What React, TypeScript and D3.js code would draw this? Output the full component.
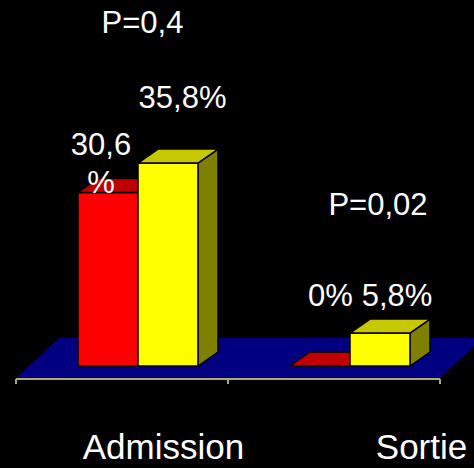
import React from "react";
import * as d3 from "d3";

// Categories, series and values
const categories = ["Admission", "Sortie"];
const seriesNames = ["A", "B"];
const valuesA = [30.6, 0];
const valuesB = [35.8, 5.8];
const pValues = ["P=0,4", "P=0,02"];

const W = 474;
const H = 468;

// Floor geometry (front edge and receding depth)
const floorFrontY = 378;
const floorDepthX = 43;
const floorDepthY = -40;
// Bars sit a little behind the floor's front edge
const barPlaneDx = 16;
const barBaseY = 366;
const barDepthX = 20;
const barDepthY = -14;
const groupPad = 46;

const frontColors = ["#FF0000", "#FFFF00"];
const topColors = ["#C00000", "#C8C800"];
const sideColors = ["#800000", "#808000"];

const font = "'Liberation Sans', Arial, Helvetica, sans-serif";

const fmt = (v: number) => `${String(v).replace(".", ",")}%`;

export default function App() {
  const x = d3.scaleBand<string>().domain(categories).range([16, 440]).padding(0);
  const y = d3.scaleLinear().domain([0, 40]).range([barBaseY, barBaseY - 226.8]);

  const series = [valuesA, valuesB];

  // value-label placement relative to each bar's front-top centre
  const labelShift = [
    [
      { dx: -7, dy: -37.5, wrap: true },
      { dx: 14.5, dy: -55, wrap: false },
    ],
    [
      { dx: 10.5, dy: -60, wrap: false },
      { dx: 17, dy: -27, wrap: false },
    ],
  ];
  const catLabelDx = [41.5, 87.5];
  const pPos = [
    { dx: 20.5, y: 33 },
    { dx: 44, y: 215 },
  ];

  const bw = x.bandwidth();
  const inner = d3
    .scaleBand<string>()
    .domain(seriesNames)
    .range([groupPad, bw - groupPad])
    .padding(0);

  const bars: React.ReactNode[] = [];
  const labels: React.ReactNode[] = [];

  categories.forEach((cat, ci) => {
    seriesNames.forEach((s, si) => {
      const v = series[si][ci];
      const x0 = (x(cat) as number) + barPlaneDx + (inner(s) as number);
      const x1 = x0 + inner.bandwidth();
      const yt = y(v);
      const yb = y(0);
      const dx = barDepthX;
      const dy = barDepthY;
      const key = `${ci}-${si}`;
      const stroke = { stroke: "#000", strokeWidth: 1.5, strokeLinejoin: "round" as const };
      bars.push(
        <g key={key}>
          {yb - yt > 0.5 && (
            <>
              <polygon
                points={`${x1},${yb} ${x1 + dx},${yb + dy} ${x1 + dx},${yt + dy} ${x1},${yt}`}
                fill={sideColors[si]}
                {...stroke}
              />
              <rect x={x0} y={yt} width={x1 - x0} height={yb - yt} fill={frontColors[si]} {...stroke} />
            </>
          )}
          <polygon
            points={`${x0},${yt} ${x0 + dx},${yt + dy} ${x1 + dx},${yt + dy} ${x1},${yt}`}
            fill={topColors[si]}
            {...stroke}
          />
        </g>
      );

      const ls = labelShift[ci][si];
      const cx = (x0 + x1) / 2 + ls.dx;
      const ly = yt + ls.dy;
      const txt = fmt(v);
      if (ls.wrap) {
        const num = txt.slice(0, -1);
        labels.push(
          <g key={`l${key}`}>
            <text x={cx} y={ly} textAnchor="middle">{num}</text>
            <text x={cx} y={ly + 38} textAnchor="middle">%</text>
          </g>
        );
      } else {
        labels.push(
          <text key={`l${key}`} x={cx} y={ly} textAnchor="middle">{txt}</text>
        );
      }
    });
  });

  const [r0, r1] = x.range();
  const floor = `${r0},${floorFrontY} ${r0 + floorDepthX},${floorFrontY + floorDepthY} ${r1 + floorDepthX},${floorFrontY + floorDepthY} ${r1},${floorFrontY}`;
  const tickXs = [...categories.map((c) => x(c) as number), r1];

  return (
    <svg
      width={W}
      height={H}
      viewBox={`0 0 ${W} ${H}`}
      style={{ position: "fixed", left: 0, top: 0, display: "block", background: "#000" }}
    >
      <rect width={W} height={H} fill="#000" />
      <polygon points={floor} fill="#000080" />
      <g stroke="#ACA878" strokeWidth={2} fill="none">
        <line x1={r0} x2={r1} y1={379} y2={379} />
        {tickXs.map((tx, i) => (
          <line key={i} x1={tx} x2={tx} y1={379} y2={384} />
        ))}
      </g>
      {bars}
      <g fill="#fff" fontFamily={font} fontSize={31}>
        {labels}
        {pValues.map((p, i) => (
          <text
            key={p}
            x={(x(categories[i]) as number) + bw / 2 + pPos[i].dx}
            y={pPos[i].y}
            textAnchor="middle"
          >
            {p}
          </text>
        ))}
      </g>
      <g fill="#fff" fontFamily={font} fontSize={35}>
        {categories.map((c, i) => (
          <text key={c} x={(x(c) as number) + bw / 2 + catLabelDx[i]} y={459} textAnchor="middle">
            {c}
          </text>
        ))}
      </g>
    </svg>
  );
}
